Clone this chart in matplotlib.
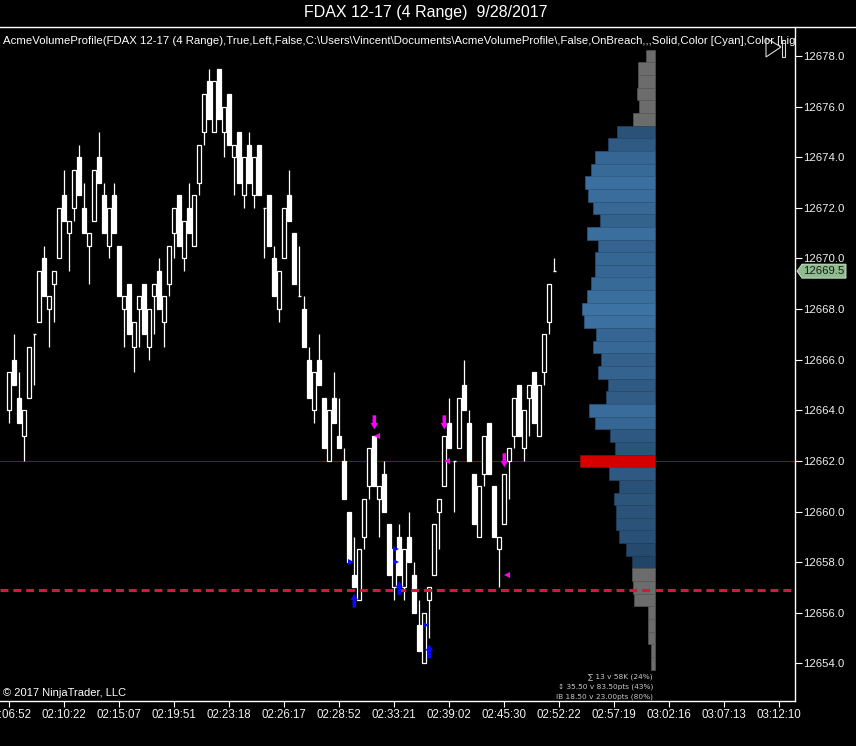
import numpy as np
import matplotlib
matplotlib.use('Agg')
import matplotlib.pyplot as plt
from matplotlib.patches import Polygon, FancyArrow, Rectangle
from matplotlib.transforms import IdentityTransform
from matplotlib.lines import Line2D

plt.rcParams['font.family'] = ['Liberation Sans', 'DejaVu Sans']

# --- range bars (4 tick range) ---
opens = [12664.0, 12666.0, 12664.5, 12663.0, 12664.5, 12667.0, 12667.5, 12670.0, 12668.0, 12669.0,
         12670.0, 12672.5, 12671.0, 12672.0, 12674.0, 12672.0, 12670.5, 12671.5, 12674.0, 12672.5,
         12670.5, 12672.5, 12670.5, 12668.0, 12669.0, 12666.5, 12668.0, 12669.0, 12666.5, 12668.5,
         12669.5, 12667.5, 12669.0, 12671.0, 12672.5, 12670.0, 12672.0, 12670.5, 12673.0, 12675.0,
         12677.0, 12675.0, 12677.5, 12675.0, 12676.5, 12674.0, 12675.0, 12672.5, 12674.5, 12672.5,
         12674.5, 12672.0, 12672.5, 12670.0, 12668.0, 12670.0, 12672.5, 12671.0, 12668.5, 12668.0,
         12666.0, 12664.0, 12666.0, 12664.5, 12662.0, 12664.5, 12663.0, 12662.0, 12660.0, 12657.5,
         12656.5, 12659.0, 12661.0, 12663.0, 12660.5, 12661.5, 12659.5, 12657.0, 12659.0, 12657.0,
         12659.0, 12657.5, 12655.5, 12654.0, 12656.5, 12657.5, 12660.0, 12661.0, 12663.5, 12662.0,
         12662.5, 12665.0, 12663.5, 12661.5, 12659.0, 12661.5, 12663.5, 12661.0, 12658.5, 12659.5,
         12662.0, 12663.0, 12665.0, 12662.5, 12664.5, 12665.5, 12663.0, 12665.5, 12667.5, 12669.5]
highs = [12665.5, 12667.0, 12665.5, 12664.0, 12666.5, 12667.0, 12669.5, 12670.5, 12668.5, 12669.5,
         12672.0, 12673.5, 12671.5, 12673.5, 12674.5, 12673.0, 12671.0, 12673.5, 12675.0, 12673.0,
         12672.0, 12673.0, 12670.5, 12668.5, 12669.0, 12667.5, 12668.5, 12669.0, 12668.0, 12669.0,
         12670.0, 12668.5, 12670.5, 12672.0, 12672.5, 12671.5, 12673.0, 12672.5, 12674.5, 12676.5,
         12677.5, 12677.0, 12677.5, 12676.0, 12676.5, 12674.5, 12675.0, 12674.0, 12675.0, 12674.0,
         12674.5, 12672.0, 12672.5, 12670.5, 12669.5, 12672.0, 12673.5, 12671.0, 12670.5, 12668.5,
         12666.5, 12665.5, 12667.0, 12664.5, 12664.0, 12665.5, 12664.5, 12662.5, 12660.0, 12659.0,
         12658.5, 12660.5, 12662.5, 12663.0, 12661.0, 12662.0, 12659.5, 12658.5, 12659.5, 12658.5,
         12660.0, 12658.0, 12656.5, 12656.0, 12657.0, 12659.5, 12660.5, 12663.0, 12664.5, 12662.0,
         12664.5, 12666.0, 12664.0, 12661.5, 12661.0, 12663.0, 12663.5, 12661.0, 12659.0, 12661.5,
         12662.5, 12664.5, 12665.0, 12664.0, 12665.0, 12665.5, 12665.0, 12667.0, 12669.0, 12670.0]
lows = [12663.5, 12665.0, 12663.5, 12662.0, 12664.5, 12665.0, 12667.5, 12668.5, 12666.5, 12667.5,
        12670.0, 12671.5, 12669.5, 12671.5, 12672.5, 12671.0, 12669.0, 12671.5, 12673.0, 12671.0,
        12670.0, 12671.0, 12668.5, 12666.5, 12667.0, 12665.5, 12666.5, 12667.0, 12666.0, 12667.0,
        12668.0, 12666.5, 12668.5, 12670.0, 12670.5, 12669.5, 12671.0, 12670.5, 12672.5, 12674.5,
        12675.5, 12675.0, 12675.5, 12674.0, 12674.5, 12672.5, 12673.0, 12672.0, 12673.0, 12672.0,
        12672.5, 12670.0, 12670.5, 12668.5, 12667.5, 12670.0, 12671.5, 12669.0, 12668.5, 12666.5,
        12664.5, 12663.5, 12665.0, 12662.5, 12662.0, 12663.5, 12662.5, 12660.5, 12658.0, 12657.0,
        12656.5, 12658.5, 12660.5, 12661.0, 12659.0, 12660.0, 12657.5, 12656.5, 12657.5, 12656.5,
        12658.0, 12656.0, 12654.5, 12654.0, 12655.0, 12657.5, 12658.5, 12661.0, 12662.5, 12660.0,
        12662.5, 12664.0, 12662.0, 12659.5, 12659.0, 12661.0, 12661.5, 12659.0, 12657.0, 12659.5,
        12660.5, 12662.5, 12663.0, 12662.0, 12663.0, 12663.5, 12663.0, 12665.0, 12667.0, 12669.5]
closes = [12665.5, 12665.0, 12663.5, 12664.0, 12666.5, 12667.0, 12669.5, 12668.5, 12668.5, 12669.5,
          12672.0, 12671.5, 12671.5, 12673.5, 12672.5, 12671.0, 12671.0, 12673.5, 12673.0, 12671.0,
          12672.0, 12671.0, 12668.5, 12668.5, 12667.0, 12667.5, 12668.5, 12667.0, 12668.0, 12669.0,
          12668.0, 12668.5, 12670.5, 12672.0, 12670.5, 12671.5, 12671.0, 12672.5, 12674.5, 12676.5,
          12675.5, 12677.0, 12675.5, 12676.0, 12674.5, 12674.5, 12673.0, 12674.0, 12673.0, 12674.0,
          12672.5, 12672.0, 12670.5, 12668.5, 12669.5, 12672.0, 12671.5, 12669.0, 12668.5, 12666.5,
          12664.5, 12665.5, 12665.0, 12662.5, 12664.0, 12663.5, 12662.5, 12660.5, 12658.0, 12657.0,
          12658.5, 12660.5, 12662.5, 12661.0, 12661.0, 12660.0, 12657.5, 12658.5, 12657.5, 12658.5,
          12658.0, 12656.0, 12654.5, 12656.0, 12657.0, 12659.5, 12660.5, 12663.0, 12662.5, 12662.0,
          12664.5, 12664.0, 12662.0, 12659.5, 12661.0, 12663.0, 12661.5, 12659.0, 12659.0, 12661.5,
          12662.5, 12664.5, 12663.0, 12664.0, 12665.0, 12663.5, 12665.0, 12667.0, 12669.0, 12669.5]

time_labels = ['02:06:52', '02:10:22', '02:15:07', '02:19:51', '02:23:18', '02:26:17',
               '02:28:52', '02:33:21', '02:39:02', '02:45:30', '02:52:22', '02:57:19',
               '03:02:16', '03:07:13', '03:12:10']
label_every = 11

# --- volume profile (relative volume per 0.5 pt level) ---
profile_prices = [12678.0, 12677.5, 12677.0, 12676.5, 12676.0, 12675.5, 12675.0, 12674.5,
                  12674.0, 12673.5, 12673.0, 12672.5, 12672.0, 12671.5, 12671.0, 12670.5,
                  12670.0, 12669.5, 12669.0, 12668.5, 12668.0, 12667.5, 12667.0, 12666.5,
                  12666.0, 12665.5, 12665.0, 12664.5, 12664.0, 12663.5, 12663.0, 12662.5,
                  12662.0, 12661.5, 12661.0, 12660.5, 12660.0, 12659.5, 12659.0, 12658.5,
                  12658.0, 12657.5, 12657.0, 12656.5, 12656.0, 12655.5, 12655.0, 12654.5, 12654.0]
profile_volume = [9, 17, 17, 18, 16, 22, 38, 47, 60, 64, 70, 67, 62, 55, 68, 57, 60, 60, 64, 68,
                  73, 71, 59, 62, 54, 57, 47, 49, 66, 60, 45, 40, 75, 46, 36, 41, 39, 39, 36, 29,
                  23, 23, 22, 21, 7, 7, 7, 4, 4]
value_area_high = 12675.0
value_area_low = 12658.0
poc_price = 12662.0
breach_level = 12656.9
last_price = 12669.5

# --- signals ---
short_signal_bars = [73, 87, 99]
long_signal_bars = [69, 78, 84]
short_tri_x = [73.6, 87.5, 99.6]
short_tri_y = [12663.0, 12662.0, 12657.5]
long_tri_x = [68.3, 77.3, 77.3, 83.3]
long_tri_y = [12658.0, 12658.5, 12658.0, 12655.5]

W, H = 856, 746
fig = plt.figure(figsize=(W / 100, H / 100), dpi=100, facecolor='black')
# plot area: x 0..795 px, y 27..701 px (from top)
ax = fig.add_axes([0, (H - 701) / H, 795 / W, 674 / H], facecolor='black')
ax.set_xlim(-1.86, 157.14)
ax.set_ylim(12652.51, 12679.15)

def axfrac(x, y):
    return x / 795, (701 - y) / 674

# candles
n = len(opens)
xs = np.arange(n)
ax.vlines(xs, lows, highs, color='white', lw=0.9, zorder=3)
for i in range(n):
    o, c = opens[i], closes[i]
    if o == c:
        ax.hlines(o, i - 0.35, i + 0.35, color='white', lw=1.0, zorder=4)
        continue
    up = c > o
    ax.add_patch(Rectangle((i - 0.42, min(o, c)), 0.84, abs(c - o),
                           facecolor='black' if up else 'white',
                           edgecolor='white', lw=0.9, zorder=4))

# volume profile
right_edge = 129.14
vol = np.array(profile_volume, dtype=float)
widths = vol / 5.0
in_va = [(p <= value_area_high) and (p >= value_area_low) for p in profile_prices]
va_vol = vol[np.array(in_va)]
vmin, vmax = va_vol.min(), va_vol.max()
dark = np.array([0x22, 0x44, 0x66]) / 255
light = np.array([0x3e, 0x74, 0xa6]) / 255
for p, w, v, inside in zip(profile_prices, widths, vol, in_va):
    if p == poc_price:
        fc, ec = '#d40000', '#b00000'
    elif inside:
        t = (v - vmin) / (vmax - vmin)
        fc = tuple(dark + (light - dark) * t)
        ec = tuple((dark + (light - dark) * t) * 0.85)
    else:
        fc, ec = '#6c6c6c', '#5c5c5c'
    ax.add_patch(Rectangle((right_edge - w, p - 0.25), w, 0.5, facecolor=fc,
                           edgecolor=ec, lw=0.4, zorder=2))

# levels
ax.axhline(poc_price, color='#8b0a0a', lw=0.8, zorder=1)
ax.axhline(breach_level, color='#dc143c', lw=2.2, ls=(0, (2.6, 1.6)), zorder=6)

# signals
for b in short_signal_bars:
    top = highs[b] + 0.25 + 0.55
    ax.add_patch(FancyArrow(b, top, 0, -0.55, width=0.7, head_width=1.5, head_length=0.25,
                            length_includes_head=True, color='#ff00ff', lw=0, zorder=7))
for b in long_signal_bars:
    bot = lows[b] - 0.25 - 0.55
    ax.add_patch(FancyArrow(b, bot, 0, 0.55, width=0.7, head_width=1.5, head_length=0.25,
                            length_includes_head=True, color='#0a0aff', lw=0, zorder=7))
ax.plot(short_tri_x, short_tri_y, ls='none', marker='<', ms=4.5, color='#ff00ff', mew=0, zorder=7)
ax.plot(long_tri_x, long_tri_y, ls='none', marker='>', ms=4.5, color='#0a0aff', mew=0, zorder=7)

# axes styling
for s in ['left', 'top']:
    ax.spines[s].set_visible(False)
ax.spines['right'].set_color('white')
ax.spines['bottom'].set_color('white')
ax.spines['right'].set_linewidth(1)
ax.spines['bottom'].set_linewidth(1)
ax.yaxis.tick_right()
ax.set_yticks(np.arange(12654, 12679, 2))
ax.set_yticklabels(['%.1f' % v for v in np.arange(12654, 12679, 2)])
ax.set_xticks(np.arange(len(time_labels)) * label_every)
ax.set_xticklabels(time_labels)
ax.tick_params(axis='y', colors='white', length=5, width=0.8, pad=1, labelsize=8.2)
ax.tick_params(axis='x', colors='white', length=4.5, width=0.8, pad=1.5, labelsize=8.3)
for lbl in ax.get_xticklabels() + ax.get_yticklabels():
    lbl.set_color('#f0f0f0')

# texts inside the panel
x0, y0 = axfrac(3, 41)
ax.text(x0, y0, 'AcmeVolumeProfile(FDAX 12-17 (4 Range),True,Left,False,C:\\Users\\Vincent\\'
        'Documents\\AcmeVolumeProfile\\,False,OnBreach,,,Solid,Color [Cyan],Color [LightGray]',
        transform=ax.transAxes, ha='left', va='center', color='white', fontsize=8.2,
        clip_on=True, zorder=8)
x0, y0 = axfrac(3, 693)
ax.text(x0, y0, '\u00a9 2017 NinjaTrader, LLC', transform=ax.transAxes, ha='left',
        va='center', color='white', fontsize=8, zorder=8)
stats = ['\u2211 13 v 58K (24%)', '\u2195 35.50 v 83.50pts (43%)', 'IB 18.50 v 23.00pts (80%)']
for k, s in enumerate(stats):
    x0, y0 = axfrac(653, 677 + 10 * k)
    ax.text(x0, y0, s, transform=ax.transAxes, ha='right', va='center',
            color='#c8c8c8', fontsize=5.3, clip_on=True, zorder=8,
            family=['DejaVu Sans'])

# title and top frame line
fig.text(426 / W, 1 - 13 / H, 'FDAX 12-17 (4 Range)  9/28/2017', ha='center', va='center',
         color='white', fontsize=11.5)
fig.add_artist(Line2D([0, 1], [1 - 27 / H, 1 - 27 / H], transform=fig.transFigure,
                      color='white', lw=1))

# little icon top right
def fp(x, y):
    return (x, H - y)
fig.add_artist(Polygon([fp(766, 38), fp(781, 47), fp(766, 57)], closed=True, fill=False,
                       ec='#d8d8d8', lw=0.8, transform=IdentityTransform()))
fig.add_artist(Rectangle(fp(782, 57), 3, 17, fill=False, ec='#d8d8d8', lw=0.8,
                         transform=IdentityTransform()))

# last price marker
fig.canvas.draw()
yd = ax.transData.transform((0, last_price))[1]
xd = ax.transAxes.transform((1, 0))[0]
fig.add_artist(Polygon([(xd + 2, yd), (xd + 7, yd + 7), (xd + 51, yd + 7),
                        (xd + 51, yd - 7), (xd + 7, yd - 7)], closed=True,
                       fc='#8fbc8f', ec='#d8ecd8', lw=0.6, transform=IdentityTransform()))
fig.text((xd + 29) / W, yd / H, '%.1f' % last_price, ha='center', va='center',
         color='#1a1a1a', fontsize=8.2)

fig.savefig('out.png', dpi=100, facecolor='black')
